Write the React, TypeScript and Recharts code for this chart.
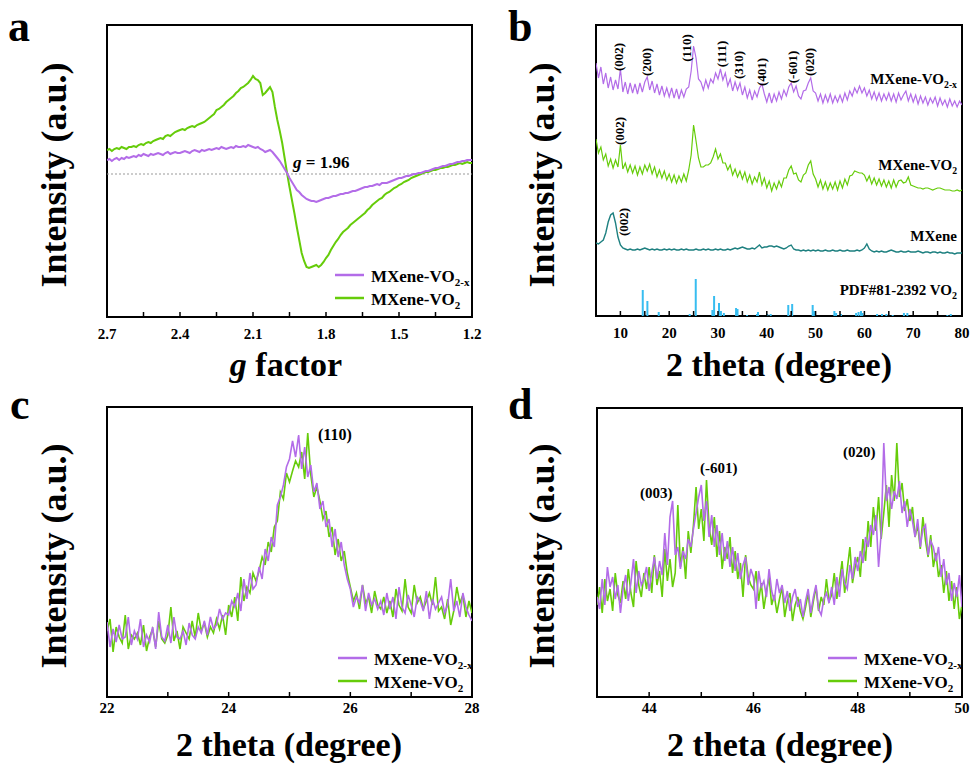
import React from "react";
import { LineChart, Line, XAxis, YAxis, ReferenceArea, ReferenceLine } from "recharts";

const FONT = "'Liberation Serif', 'Times New Roman', serif";
const PURPLE = "#b36ce8";
const GREEN = "#66cc0a";
const TEAL = "#1e8080";
const BLUE = "#38bdf0";

// ---- a: EPR, g factor 2.70 -> 1.20, step 0.01
const aStart = 2.7;
const aStep = 0.01;
const aVO2x = [
  157, 158, 156, 158, 159, 157, 159, 158, 160, 159,
  160, 161, 160, 162, 161, 163, 162, 161, 163, 162,
  163, 164, 163, 162, 164, 165, 163, 164, 165, 164,
  164, 165, 166, 165, 164, 166, 167, 166, 165, 167,
  166, 167, 168, 167, 168, 169, 168, 170, 169, 168,
  169, 170, 169, 171, 170, 170, 171, 170, 172, 171,
  170, 169, 170, 168, 167, 165, 166, 167, 165, 162,
  159, 156, 152, 148, 144, 139, 135, 131, 127, 125,
  122, 120, 118, 117, 116, 116, 115, 116, 117, 118,
  119, 119, 120, 121, 121, 122, 123, 123, 124, 124,
  125, 126, 126, 127, 128, 129, 130, 130, 131, 131,
  132, 133, 132, 134, 134, 134, 135, 136, 137, 138,
  139, 139, 140, 141, 141, 142, 143, 143, 144, 144,
  145, 146, 146, 147, 148, 149, 149, 150, 151, 151,
  152, 153, 153, 154, 155, 155, 156, 156, 157, 157,
  157,
];
const aVO2 = [
  167, 168, 166, 168, 169, 168, 170, 169, 168, 170,
  170, 171, 170, 172, 173, 172, 174, 175, 174, 176,
  177, 178, 179, 178, 181, 182, 181, 183, 185, 186,
  187, 188, 187, 189, 190, 191, 190, 192, 193, 194,
  195, 197, 199, 201, 203, 207, 208, 210, 212, 215,
  217, 219, 221, 224, 226, 229, 230, 232, 234, 237,
  241, 238, 237, 234, 222, 224, 227, 230, 225, 210,
  197, 186, 174, 159, 144, 130, 117, 104, 90, 77,
  64, 56, 50, 49, 50, 51, 52, 50, 52, 55,
  59, 62, 67, 71, 75, 78, 82, 85, 87, 89,
  92, 94, 96, 98, 100, 102, 104, 107, 109, 112,
  114, 116, 118, 119, 122, 124, 125, 127, 129, 130,
  132, 133, 135, 136, 137, 139, 140, 141, 142, 143,
  144, 145, 145, 146, 147, 147, 148, 149, 149, 150,
  150, 151, 152, 152, 153, 154, 153, 154, 155, 154,
  154,
];
const aTicks = [2.7, 2.55, 2.4, 2.25, 2.1, 1.95, 1.8, 1.65, 1.5, 1.35, 1.2];
const aLabels = [2.7, 2.4, 2.1, 1.8, 1.5, 1.2];
const aMarker = 143; // g = 1.96 level

// ---- b: XRD 5 -> 80, step 0.5
const bStart = 5;
const bStep = 0.5;
const bVO2x = [
  253, 238, 249, 232, 243, 228, 239, 226, 236, 227,
  247, 224, 234, 222, 233, 223, 232, 222, 233, 224,
  234, 239, 226, 235, 223, 232, 221, 230, 220, 228,
  219, 228, 218, 227, 217, 226, 219, 227, 229, 245,
  270, 258, 237, 234, 226, 236, 228, 237, 233, 243,
  237, 247, 236, 243, 230, 237, 225, 234, 226, 233,
  221, 229, 218, 226, 216, 225, 219, 228, 232, 222,
  214, 223, 213, 222, 215, 224, 217, 226, 220, 229,
  233, 224, 230, 220, 217, 225, 226, 233, 238, 225,
  223, 215, 222, 213, 221, 214, 222, 213, 220, 214,
  221, 214, 223, 216, 225, 220, 228, 223, 230, 223,
  228, 220, 226, 217, 224, 216, 223, 215, 222, 216,
  223, 215, 222, 214, 223, 216, 221, 225, 215, 222,
  214, 221, 212, 220, 213, 219, 211, 218, 213, 219,
  210, 218, 211, 216, 209, 217, 210, 215, 209, 215,
  211,
];
const bVO2 = [
  177, 163, 169, 156, 162, 150, 157, 148, 156, 149,
  171, 147, 153, 144, 151, 143, 150, 141, 149, 142,
  151, 145, 152, 142, 149, 139, 146, 138, 145, 136,
  142, 134, 141, 133, 140, 134, 142, 135, 146, 161,
  191, 175, 158, 149, 149, 151, 151, 153, 159, 167,
  157, 162, 153, 153, 146, 151, 141, 147, 139, 145,
  137, 144, 134, 141, 132, 139, 134, 144, 131, 138,
  128, 135, 125, 133, 127, 135, 129, 138, 138, 146,
  150, 142, 143, 136, 134, 141, 143, 151, 155, 142,
  137, 129, 136, 127, 134, 126, 133, 127, 134, 126,
  135, 128, 137, 131, 140, 141, 145, 144, 143, 143,
  141, 135, 140, 132, 138, 131, 137, 130, 136, 129,
  135, 128, 136, 129, 135, 136, 133, 134, 139, 131,
  130, 129, 128, 128, 127, 128, 128, 127, 126, 127,
  128, 128, 127, 126, 126, 126, 125, 125, 126, 125,
  126,
];
const bMXene = [
  73, 72, 74, 76, 83, 94, 101, 103, 93, 79,
  71, 68, 67, 66, 67, 66, 66, 67, 66, 67,
  68, 67, 66, 67, 66, 67, 66, 66, 67, 66,
  67, 66, 67, 66, 66, 67, 66, 67, 66, 66,
  66, 67, 66, 66, 67, 66, 67, 66, 66, 67,
  66, 67, 66, 66, 67, 66, 67, 68, 67, 68,
  69, 68, 67, 67, 68, 67, 69, 71, 68, 69,
  69, 70, 70, 69, 70, 69, 68, 67, 68, 70,
  71, 67, 66, 66, 65, 66, 65, 66, 65, 66,
  65, 66, 65, 65, 66, 65, 65, 66, 65, 65,
  66, 65, 65, 66, 65, 65, 65, 66, 65, 66,
  68, 72, 67, 65, 64, 65, 64, 65, 64, 64,
  65, 66, 65, 64, 64, 65, 64, 64, 65, 64,
  64, 64, 65, 64, 63, 64, 64, 63, 64, 64,
  63, 64, 63, 63, 64, 63, 63, 62, 63, 63,
  63,
];
// PDF#81-2392 reference lines
const bRefPos = [
  14.58, 15.53, 17.85, 24.2, 25.44, 28.85, 29.2, 30.2, 30.6, 31.2, 33.7, 34.0,
  35.95, 38.0, 38.2, 40.1, 40.8, 44.4, 45.2, 49.4, 49.7, 53.85, 54.2, 55.2,
  58.3, 58.8, 59.3, 59.6, 62.6, 63.6, 64.5, 65.8, 68.1, 68.8, 77.0, 77.7,
];
const bRefInt = [
  26, 15, 4, 2, 37, 6, 20, 13, 5, 3, 8, 7,
  1, 2, 4, 2, 2, 11, 12, 11, 5, 5, 3, 2,
  3, 4, 5, 3, 2, 2, 2, 1, 3, 3, 1, 2,
];
const bTicks = [5, 10, 15, 20, 25, 30, 35, 40, 45, 50, 55, 60, 65, 70, 75, 80];
const bLabels = [10, 20, 30, 40, 50, 60, 70, 80];

// ---- c: (110) region 22 -> 28, step 0.05
const cStart = 22;
const cStep = 0.05;
const cVO2x = [
  75, 50, 68, 55, 72, 58, 60, 80, 52, 66,
  58, 78, 50, 62, 55, 70, 48, 85, 60, 56,
  72, 54, 80, 60, 58, 66, 52, 74, 62, 58,
  70, 64, 76, 62, 80, 68, 72, 88, 78, 84,
  82, 96, 90, 104, 86, 118, 98, 124, 108, 112,
  130, 118, 148, 136, 160, 150, 192, 200, 212, 230,
  238, 256, 240, 262, 228, 250, 220, 232, 205, 214,
  188, 196, 170, 178, 150, 168, 140, 155, 132, 118,
  108, 90, 100, 94, 112, 86, 104, 92, 98, 88,
  96, 82, 104, 88, 100, 78, 110, 90, 84, 102,
  92, 80, 100, 96, 86, 106, 78, 98, 88, 94,
  100, 84, 92, 118, 86, 96, 80, 104, 90, 82,
  76,
];
const cVO2 = [
  66, 78, 45, 70, 60, 54, 82, 48, 62, 58,
  64, 52, 72, 46, 60, 68, 50, 76, 58, 54,
  62, 90, 56, 66, 48, 70, 64, 58, 76, 60,
  84, 66, 74, 60, 70, 64, 78, 68, 82, 62,
  92, 80, 100, 76, 120, 96, 110, 104, 124, 116,
  126, 140, 132, 155, 145, 170, 176, 205, 198, 224,
  215, 226, 236, 230, 245, 218, 264, 222, 200, 210,
  196, 178, 186, 160, 170, 142, 158, 136, 146, 124,
  110, 96, 104, 88, 112, 94, 100, 84, 106, 92,
  88, 100, 84, 96, 80, 108, 92, 86, 118, 90,
  84, 112, 94, 100, 88, 96, 104, 92, 120, 86,
  90, 78, 98, 72, 86, 110, 94, 102, 80, 96,
  84,
];
const cTicks = [22, 23, 24, 25, 26, 27, 28];
const cLabels = [22, 24, 26, 28];

// ---- d: 43 -> 50, step 0.05
const dStart = 43;
const dStep = 0.05;
const dVO2x = [
  100, 88, 118, 92, 130, 110, 120, 98, 112, 84,
  108, 122, 96, 114, 138, 104, 126, 112, 118, 130,
  106, 124, 140, 118, 136, 122, 164, 132, 180, 196,
  142, 150, 128, 146, 138, 158, 150, 168, 184, 200,
  212, 176, 196, 160, 182, 150, 172, 142, 164, 136,
  156, 130, 150, 126, 144, 118, 132, 140, 112, 128,
  120, 88, 126, 110, 116, 100, 128, 106, 96, 118,
  104, 112, 94, 106, 86, 100, 108, 90, 98, 80,
  96, 108, 84, 100, 112, 88, 82, 98, 104, 94,
  110, 92, 120, 100, 128, 114, 108, 132, 118, 140,
  126, 146, 134, 160, 150, 172, 162, 182, 130, 164,
  254, 196, 210, 188, 206, 198, 216, 184, 196, 170,
  188, 176, 160, 178, 150, 168, 172, 142, 156, 150,
  136, 150, 120, 138, 112, 124, 96, 114, 100, 122,
  90,
];
const dVO2 = [
  92, 110, 84, 118, 96, 108, 86, 124, 102, 94,
  116, 98, 128, 104, 90, 136, 112, 100, 124, 108,
  130, 104, 142, 112, 126, 100, 148, 116, 138, 110,
  124, 192, 130, 150, 118, 166, 144, 172, 210, 168,
  188, 156, 217, 170, 152, 180, 140, 166, 128, 150,
  138, 160, 124, 146, 118, 134, 100, 142, 120, 112,
  108, 126, 96, 114, 88, 106, 120, 92, 102, 84,
  98, 110, 80, 96, 104, 76, 92, 100, 86, 78,
  90, 104, 80, 96, 110, 86, 100, 92, 118, 96,
  102, 124, 98, 116, 136, 104, 128, 150, 114, 130,
  140, 120, 158, 136, 176, 150, 190, 166, 200, 158,
  184, 212, 170, 222, 196, 254, 200, 214, 186, 198,
  176, 190, 160, 172, 148, 180, 156, 140, 162, 130,
  144, 120, 132, 104, 126, 96, 116, 88, 110, 78,
  92,
];
const dTicks = [44, 45, 46, 47, 48, 49, 50];
const dLabels = [44, 46, 48, 50];

const round = (v: number) => Math.round(v * 1000) / 1000;

const aRows = aVO2.map((v, i) => ({ x: round(aStart - i * aStep), vo2: v, vo2x: aVO2x[i] }));
const bRows = bVO2.map((v, i) => ({ x: round(bStart + i * bStep), vo2: v, vo2x: bVO2x[i], mx: bMXene[i] }));
const cRows = cVO2.map((v, i) => ({ x: round(cStart + i * cStep), vo2: v, vo2x: cVO2x[i] }));
const dRows = dVO2.map((v, i) => ({ x: round(dStart + i * dStep), vo2: v, vo2x: dVO2x[i] }));

const txt = { fontFamily: FONT, fontWeight: 700, fill: "#000" } as const;

// inward tick mark plus a label on the major ticks
function makeTick(labels: number[], digits: number, gap: number) {
  return (props: any) => {
    const { x, y, payload } = props;
    const v = payload.value as number;
    return (
      <g>
        <line x1={x} x2={x} y1={y} y2={y - 5} stroke="#000" strokeWidth={1.5} />
        {labels.includes(v) && (
          <text x={x} y={y + gap} textAnchor="middle" fontSize={15} {...txt}>
            {v.toFixed(digits)}
          </text>
        )}
      </g>
    );
  };
}

type Series = { key: string; color: string; width: number };
type PanelProps = {
  left: number;
  top: number;
  width: number;
  height: number;
  margin: { top: number; right: number; bottom: number; left: number };
  rows: Record<string, number>[];
  xDomain: [number, number];
  reversed?: boolean;
  ticks: number[];
  labels: number[];
  digits: number;
  yMax: number;
  gap: number;
  series: Series[];
  extras?: React.ReactNode[];
};

function Panel(p: PanelProps) {
  return (
    <div style={{ position: "absolute", left: p.left, top: p.top }}>
      <LineChart
        width={p.width}
        height={p.height}
        data={p.rows}
        margin={{ ...p.margin, bottom: p.margin.bottom - 30 }}
      >
        <XAxis
          type="number"
          dataKey="x"
          domain={p.xDomain}
          reversed={p.reversed}
          ticks={p.ticks}
          interval={0}
          allowDataOverflow
          height={30}
          axisLine={false}
          tickLine={false}
          tickSize={0}
          tickMargin={0}
          tick={makeTick(p.labels, p.digits, p.gap)}
        />
        <YAxis hide type="number" domain={[0, p.yMax]} allowDataOverflow />
        {p.extras}
        {p.series.map((s) => (
          <Line
            key={s.key}
            type="linear"
            dataKey={s.key}
            stroke={s.color}
            strokeWidth={s.width}
            dot={false}
            isAnimationActive={false}
          />
        ))}
        <ReferenceArea
          x1={p.xDomain[0]}
          x2={p.xDomain[1]}
          y1={0}
          y2={p.yMax}
          fill="none"
          stroke="#000"
          strokeWidth={2}
        />
      </LineChart>
    </div>
  );
}

function VO2x({ x, y, size, anchor }: { x: number; y: number; size: number; anchor?: "start" | "end" }) {
  return (
    <text x={x} y={y} fontSize={size} textAnchor={anchor ?? "start"} {...txt}>
      MXene-VO<tspan fontSize={size * 0.65} dy={4}>2-x</tspan>
    </text>
  );
}

function VO2({ x, y, size, anchor }: { x: number; y: number; size: number; anchor?: "start" | "end" }) {
  return (
    <text x={x} y={y} fontSize={size} textAnchor={anchor ?? "start"} {...txt}>
      MXene-VO<tspan fontSize={size * 0.65} dy={4}>2</tspan>
    </text>
  );
}

function LegendBox({ x, y }: { x: number; y: number }) {
  return (
    <g>
      <line x1={x} x2={x + 29} y1={y} y2={y} stroke={PURPLE} strokeWidth={2.5} />
      <VO2x x={x + 36} y={y + 7} size={17} />
      <line x1={x} x2={x + 29} y1={y + 23} y2={y + 23} stroke={GREEN} strokeWidth={2.5} />
      <VO2 x={x + 36} y={y + 30} size={17} />
    </g>
  );
}

const bPeaks: [string, number, number][] = [
  ["(002)", 619, 57],
  ["(200)", 647, 62],
  ["(110)", 687, 48],
  ["(111)", 722, 54],
  ["(310)", 739, 65],
  ["(401)", 762, 72],
  ["(-601)", 793, 67],
  ["(020)", 810, 62],
  ["(002)", 620, 131],
  ["(002)", 624, 222],
];

export default function App() {
  const pairSeries: Series[] = [
    { key: "vo2", color: GREEN, width: 1.6 },
    { key: "vo2x", color: PURPLE, width: 1.6 },
  ];
  return (
    <div style={{ position: "absolute", left: 0, top: 0, width: 971, height: 765, background: "#fff" }}>
      <Panel
        left={0}
        top={0}
        width={490}
        height={390}
        margin={{ top: 25, left: 107, right: 18, bottom: 73 }}
        rows={aRows}
        xDomain={[1.2, 2.7]}
        reversed
        ticks={aTicks}
        labels={aLabels}
        digits={1}
        yMax={292}
        gap={22}
        series={[
          { key: "vo2", color: GREEN, width: 2 },
          { key: "vo2x", color: PURPLE, width: 2 },
        ]}
        extras={[
          <ReferenceLine key="g" y={aMarker} stroke="#999" strokeDasharray="2 2" strokeWidth={1} />,
        ]}
      />
      <Panel
        left={490}
        top={0}
        width={481}
        height={390}
        margin={{ top: 25, left: 106, right: 9, bottom: 74 }}
        rows={bRows}
        xDomain={[5, 80]}
        ticks={bTicks}
        labels={bLabels}
        digits={0}
        yMax={291}
        gap={22}
        series={[
          { key: "mx", color: TEAL, width: 1.4 },
          { key: "vo2", color: GREEN, width: 1.2 },
          { key: "vo2x", color: PURPLE, width: 1.2 },
        ]}
        extras={bRefPos.map((pos, i) => (
          <ReferenceLine
            key={"r" + i}
            segment={[
              { x: pos, y: 0 },
              { x: pos, y: bRefInt[i] },
            ]}
            stroke={BLUE}
            strokeWidth={2}
          />
        ))}
      />
      <Panel
        left={0}
        top={390}
        width={490}
        height={375}
        margin={{ top: 17, left: 107, right: 18, bottom: 68 }}
        rows={cRows}
        xDomain={[22, 28]}
        ticks={cTicks}
        labels={cLabels}
        digits={0}
        yMax={290}
        gap={16}
        series={pairSeries}
      />
      <Panel
        left={490}
        top={390}
        width={481}
        height={375}
        margin={{ top: 18, left: 107, right: 9, bottom: 68 }}
        rows={dRows}
        xDomain={[43, 50]}
        ticks={dTicks}
        labels={dLabels}
        digits={0}
        yMax={289}
        gap={16}
        series={pairSeries}
      />

      <svg width={971} height={765} style={{ position: "absolute", left: 0, top: 0, pointerEvents: "none" }}>
        <text x={8} y={41} fontSize={44} {...txt}>a</text>
        <text x={508} y={41} fontSize={44} {...txt}>b</text>
        <text x={10} y={419} fontSize={44} {...txt}>c</text>
        <text x={508} y={419} fontSize={44} {...txt}>d</text>

        {[
          [66, 175],
          [554, 175],
          [66, 556],
          [554, 556],
        ].map(([x, y], i) => (
          <text key={i} transform={`translate(${x},${y}) rotate(-90)`} textAnchor="middle" fontSize={36} {...txt}>
            Intensity (a.u.)
          </text>
        ))}

        <text x={286} y={376} textAnchor="middle" fontSize={34} {...txt}>
          <tspan fontStyle="italic">g</tspan> factor
        </text>
        <text x={779} y={376} textAnchor="middle" fontSize={34} {...txt}>2 theta (degree)</text>
        <text x={289} y={756} textAnchor="middle" fontSize={34} {...txt}>2 theta (degree)</text>
        <text x={780} y={756} textAnchor="middle" fontSize={34} {...txt}>2 theta (degree)</text>

        {/* a */}
        <text x={293} y={168} fontSize={17} {...txt}>
          <tspan fontStyle="italic">g</tspan> = 1.96
        </text>
        <LegendBox x={335} y={275} />

        {/* b */}
        {bPeaks.map(([label, x, y], i) => (
          <text key={i} transform={`translate(${x + 4},${y}) rotate(-90)`} textAnchor="middle" fontSize={13} {...txt}>
            {label}
          </text>
        ))}
        <VO2x x={957} y={84} size={15} anchor="end" />
        <VO2 x={957} y={170} size={15} anchor="end" />
        <text x={957} y={241} fontSize={15} textAnchor="end" {...txt}>MXene</text>
        <text x={957} y={295} fontSize={15} textAnchor="end" {...txt}>
          PDF#81-2392 VO<tspan fontSize={10} dy={4}>2</tspan>
        </text>

        {/* c */}
        <text x={318} y={440} fontSize={16} {...txt}>(110)</text>
        <LegendBox x={338} y={658} />

        {/* d */}
        <text x={640} y={498} fontSize={15} {...txt}>(003)</text>
        <text x={700} y={473} fontSize={15} {...txt}>(-601)</text>
        <text x={843} y={457} fontSize={15} {...txt}>(020)</text>
        <LegendBox x={828} y={658} />
      </svg>
    </div>
  );
}
